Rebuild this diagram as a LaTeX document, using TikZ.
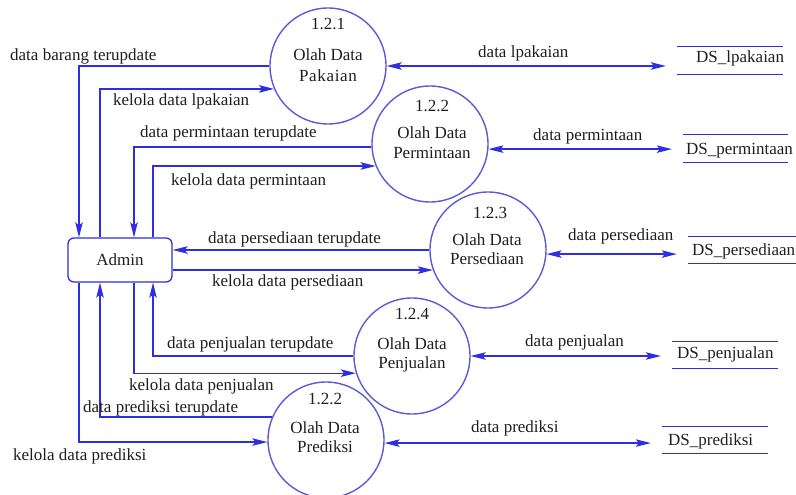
\documentclass[tikz,border=0pt]{standalone}
\usepackage{fontspec}
\setmainfont{Liberation Serif}
\usetikzlibrary{arrows.meta,calc}
\definecolor{lineblue}{RGB}{45,45,225}
\definecolor{circblue}{RGB}{90,90,215}
\definecolor{txt}{RGB}{30,30,30}
\begin{document}
\begin{tikzpicture}[x=1pt,y=-1pt,
 every node/.style={font=\fontsize{17}{20}\selectfont, text=txt},
 proc/.style={circle, draw=circblue, line width=1.4pt, minimum size=116pt, inner sep=0pt},
 lbl/.style={inner sep=0pt, anchor=base west},
 ctr/.style={inner sep=0pt, anchor=base},
 tip/.tip={Stealth[length=15pt,width=7.5pt,inset=3pt]},
 flow/.style={draw=lineblue, line width=1.3pt, -tip},
 bi/.style={draw=lineblue, line width=1.3pt, tip-tip, shorten >=11pt},
 dsline/.style={draw=lineblue, line width=1.3pt},
 dsbox/.style={inner sep=0pt, minimum height=27pt},
 ent/.style={draw=lineblue, line width=1.3pt, rounded corners=6pt, minimum width=104pt, minimum height=44pt, inner sep=0pt}]
\useasboundingbox (0,0) rectangle (796,495);

% processes
\node[proc] (p1) at (328,66) {};
\node[proc] (p2) at (430,144) {};
\node[proc] (p3) at (488,250) {};
\node[proc] (p4) at (412,356) {};
\node[proc] (p5) at (326,440) {};

\node[ctr] (p1n) at (328,30) {1.2.1};
\node[ctr] (p1a) at (328,61) {Olah Data};
\node[ctr] (p1b) at (328,82) {\addfontfeatures{LetterSpace=4}Pakaian};
\node[ctr] (p2n) at (432,112) {1.2.2};
\node[ctr] (p2a) at (432,139) {Olah Data};
\node[ctr] (p2b) at (432,158) {Permintaan};
\node[ctr] (p3n) at (490,218) {1.2.3};
\node[ctr] (p3a) at (487,245) {Olah Data};
\node[ctr] (p3b) at (487,264) {Persediaan};
\node[ctr] (p4n) at (412,319) {1.2.4};
\node[ctr] (p4a) at (412,349) {Olah Data};
\node[ctr] (p4b) at (412,368) {Penjualan};
\node[ctr] (p5n) at (325,404) {1.2.2};
\node[ctr] (p5a) at (325,433) {Olah Data};
\node[ctr] (p5b) at (325,452) {Prediksi};

% entity
\node[ent] (admin) at (120,260) {Admin};

% data stores
\node[dsbox, minimum width=106pt] (d1) at (730,60.5) {};
\node[dsbox, minimum width=105pt] (d2) at (735.5,148.5) {};
\node[dsbox, minimum width=112pt] (d3) at (744,250) {};
\node[dsbox, minimum width=106pt] (d4) at (725,355) {};
\node[dsbox, minimum width=106pt] (d5) at (715,440) {};
\foreach \d in {d1,d2,d3,d4,d5}{
  \draw[dsline] (\d.north west) -- (\d.north east) (\d.south west) -- (\d.south east);
}
\node[lbl] (d1t) at (696,63) {DS\_lpakaian};
\node[lbl] (d2t) at (686,154) {DS\_permintaan};
\node[lbl] (d3t) at (692,255) {DS\_persediaan};
\node[lbl] (d4t) at (677,358) {DS\_penjualan};
\node[lbl] (d5t) at (668,445) {DS\_prediksi};

% lanes
\coordinate (lA) at (79,0);
\coordinate (lB) at (100,0);
\coordinate (lC) at (134,0);
\coordinate (lD) at (153,0);

% flows between admin and processes
\draw[flow] (p1.west) -| (admin.north -| lA);
\draw[flow] (admin.north -| lB) |- (p1.203.4);
\draw[flow] (p2.183) -| (admin.north -| lC);
\draw[flow] (admin.north -| lD) |- (p2.202.3);
\draw[flow] (p3.180) -- (p3.180 -| admin.east);
\draw[flow] (p3.200.2 -| admin.east) -- (p3.200.2);
\draw[flow] (p4.west) -| (admin.south -| lD);
\draw[flow] (admin.south -| lC) |- (p4.197);
\draw[flow] (p5.157.7) -| (admin.south -| lB);
\draw[flow] (admin.south -| lA) |- (p5.182);

% flows to data stores
\draw[bi] (p1.east) -- (p1.east -| d1.west);
\draw[bi] (p2.355) -- (p2.355 -| d2.west);
\draw[bi] (p3.356) -- (p3.356 -| d3.west);
\draw[bi] (p4.east) -- (p4.east -| d4.west);
\draw[bi] (p5.357) -- (p5.357 -| d5.west);

% labels
\node[lbl] (l1) at (10,61) {data barang terupdate};
\node[lbl] (l2) at (113,106) {kelola data lpakaian};
\node[lbl] (l3) at (140,138) {data permintaan terupdate};
\node[lbl] (l4) at (171,185) {kelola data permintaan};
\node[lbl] (l5) at (208,243) {data persediaan terupdate};
\node[lbl] (l6) at (212,286) {kelola data persediaan};
\node[lbl] (l7) at (167,348) {data penjualan terupdate};
\node[lbl] (l8) at (129,390) {kelola data penjualan};
\node[lbl] (l9) at (83,412) {data prediksi terupdate};
\node[lbl] (l10) at (13,460) {kelola data prediksi};
\node[lbl] (m1) at (478,58) {data lpakaian};
\node[lbl] (m2) at (533,140) {data permintaan};
\node[lbl] (m3) at (568,240) {data persediaan};
\node[lbl] (m4) at (525,346) {data penjualan};
\node[lbl] (m5) at (471,432) {data prediksi};
\end{tikzpicture}
\end{document}
